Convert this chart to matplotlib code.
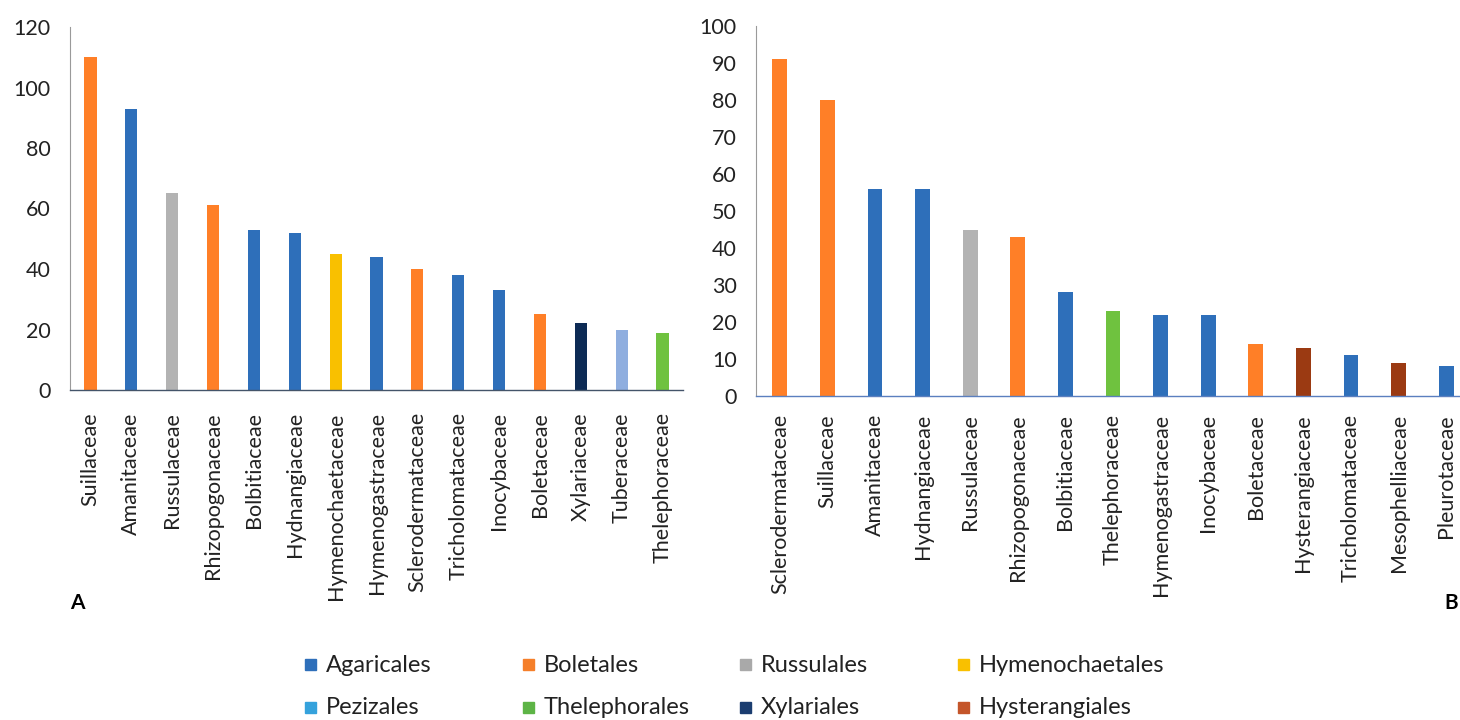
import matplotlib
matplotlib.use("Agg")
import matplotlib.pyplot as plt
from matplotlib.patches import Rectangle

plt.rcParams['font.family'] = ['Lato', 'DejaVu Sans']

# panel A
left_families = ["Suillaceae", "Amanitaceae", "Russulaceae", "Rhizopogonaceae", "Bolbitiaceae",
                 "Hydnangiaceae", "Hymenochaetaceae", "Hymenogastraceae", "Sclerodermataceae",
                 "Tricholomataceae", "Inocybaceae", "Boletaceae", "Xylariaceae", "Tuberaceae",
                 "Thelephoraceae"]
left_counts = [110, 93, 65, 61, 53, 52, 45, 44, 40, 38, 33, 25, 22, 20, 19]
left_orders = ["Boletales", "Agaricales", "Russulales", "Boletales", "Agaricales",
               "Agaricales", "Hymenochaetales", "Agaricales", "Boletales",
               "Agaricales", "Agaricales", "Boletales", "Xylariales", "Pezizales",
               "Thelephorales"]

# panel B
right_families = ["Sclerodermataceae", "Suillaceae", "Amanitaceae", "Hydnangiaceae", "Russulaceae",
                  "Rhizopogonaceae", "Bolbitiaceae", "Thelephoraceae", "Hymenogastraceae",
                  "Inocybaceae", "Boletaceae", "Hysterangiaceae", "Tricholomataceae",
                  "Mesophelliaceae", "Pleurotaceae"]
right_counts = [91, 80, 56, 56, 45, 43, 28, 23, 22, 22, 14, 13, 11, 9, 8]
right_orders = ["Boletales", "Boletales", "Agaricales", "Agaricales", "Russulales",
                "Boletales", "Agaricales", "Thelephorales", "Agaricales",
                "Agaricales", "Boletales", "Hysterangiales", "Agaricales",
                "Hysterangiales", "Agaricales"]

legend_orders = ["Agaricales", "Boletales", "Russulales", "Hymenochaetales",
                 "Pezizales", "Thelephorales", "Xylariales", "Hysterangiales"]
legend_colors = {"Agaricales": "#2E6FBA", "Boletales": "#F57F2A", "Russulales": "#A9A9A9",
                 "Hymenochaetales": "#F9C000", "Pezizales": "#35A2DC", "Thelephorales": "#5DB446",
                 "Xylariales": "#1B3D70", "Hysterangiales": "#C4552A"}
bar_colors = dict(legend_colors)
bar_colors.update({"Russulales": "#B3B3B3", "Pezizales": "#8FAEDF", "Xylariales": "#0D2B55",
                   "Thelephorales": "#6FC23F", "Hysterangiales": "#9B3A12", "Boletales": "#FF7F27"})

fig = plt.figure(figsize=(14.6, 7.2), dpi=100)
axA = fig.add_axes([70/1460, 1-390/720, 613/1460, 363/720])
axB = fig.add_axes([756/1460, 1-396/720, 714/1460, 370/720])


def draw(ax, fams, counts, orders, ymax, step, bw, xpad):
    x = range(len(fams))
    ax.bar(x, counts, width=bw, color=[bar_colors[o] for o in orders], zorder=2)
    ax.set_xlim(-0.5, len(fams) - 0.5)
    ax.set_ylim(0, ymax)
    ax.set_yticks(range(0, ymax + 1, step))
    ax.set_xticks(list(x))
    ax.set_xticklabels(fams, rotation=90)
    ax.tick_params(axis='x', length=0, pad=xpad, labelsize=15.5, colors='#222222')
    ax.tick_params(axis='y', length=0, pad=14, labelsize=15.5, colors='#222222')
    for s in ['top', 'right']:
        ax.spines[s].set_visible(False)
    ax.spines['left'].set_color('#9a9a9a')
    ax.spines['left'].set_linewidth(0.8)
    ax.spines['bottom'].set_color('#44546A')
    ax.spines['bottom'].set_linewidth(1.0)


draw(axA, left_families, left_counts, left_orders, 120, 20, 0.3, 16)
draw(axB, right_families, right_counts, right_orders, 100, 10, 0.31, 13)
axB.spines['bottom'].set_color('#5B7FBF')

fig.text(70/1460, 1-603/720, "A", fontsize=15, fontweight='bold', va='center', ha='left')
fig.text(1458/1460, 1-603/720, "B", fontsize=15, fontweight='bold', va='center', ha='right')

# legend, 2 rows x 4 columns
col_x = [305, 523, 740, 958]
row_y = [665, 708]
for i, name in enumerate(legend_orders):
    cx = col_x[i % 4]
    cy = row_y[i // 4]
    fig.add_artist(Rectangle((cx/1460, 1-(cy+5)/720), 11/1460, 11/720,
                             transform=fig.transFigure, color=legend_colors[name]))
    fig.text((cx+21)/1460, 1-cy/720, name, fontsize=17, va='center', ha='left', color='#222222')

fig.savefig("out.png", dpi=100)
